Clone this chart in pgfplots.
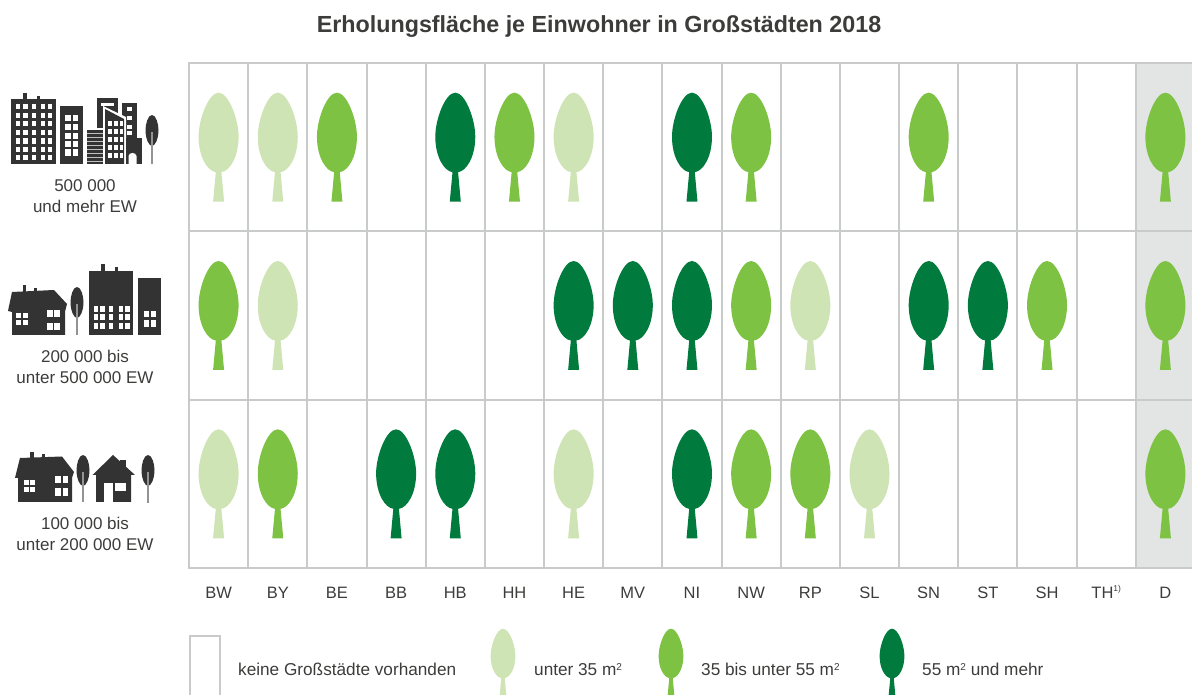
\documentclass[border=0pt]{standalone}
\usepackage{pgfplots}
\pgfplotsset{compat=1.18}
\usepackage{fontspec}
\setmainfont{Liberation Sans}
\definecolor{lightg}{HTML}{CFE4B5}
\definecolor{midg}{HTML}{7DC242}
\definecolor{darkg}{HTML}{007A3D}
\definecolor{gridc}{HTML}{C9CACA}
\definecolor{dcol}{HTML}{E3E4E4}
\definecolor{icon}{HTML}{333333}
\definecolor{txt}{HTML}{3C3C3B}
\newcommand{\sq}{\raisebox{0.62ex}{\fontsize{10}{10}\selectfont 2}}
\pgfdeclareplotmark{tree}{%
  \pgfpathmoveto{\pgfpoint{0pt}{54.5pt}}%
  \pgfpathcurveto{\pgfpoint{10pt}{54.5pt}}{\pgfpoint{20pt}{28pt}}{\pgfpoint{20pt}{10.5pt}}%
  \pgfpathcurveto{\pgfpoint{20pt}{-10pt}}{\pgfpoint{11pt}{-24pt}}{\pgfpoint{2.8pt}{-25pt}}%
  \pgfpathlineto{\pgfpoint{5.5pt}{-54.5pt}}%
  \pgfpathlineto{\pgfpoint{-5.5pt}{-54.5pt}}%
  \pgfpathlineto{\pgfpoint{-2.8pt}{-25pt}}%
  \pgfpathcurveto{\pgfpoint{-11pt}{-24pt}}{\pgfpoint{-20pt}{-10pt}}{\pgfpoint{-20pt}{10.5pt}}%
  \pgfpathcurveto{\pgfpoint{-20pt}{28pt}}{\pgfpoint{-10pt}{54.5pt}}{\pgfpoint{0pt}{54.5pt}}%
  \pgfpathclose\pgfusepathqfill}
\newcommand{\wins}[4]{\foreach \xx in {#1}{\foreach \yy in {#2}{\fill[white] (\xx,\yy) rectangle ++(#3,#4);}}}
\newcommand{\smalltree}[3]{% cx, crown top, base
  \fill[icon] (#1,#2) .. controls (#1+4,#2) and (#1+6.5,#2+9) .. (#1+6.5,#2+15)
     .. controls (#1+6.5,#2+24) and (#1+3,#2+31) .. (#1,#2+31)
     .. controls (#1-3,#2+31) and (#1-6.5,#2+24) .. (#1-6.5,#2+15)
     .. controls (#1-6.5,#2+9) and (#1-4,#2) .. (#1,#2) -- cycle;
  \fill[gray!85] (#1-1.2,#2+17) rectangle (#1+1.2,#3);}
\begin{document}
\begin{tikzpicture}[x=1pt,y=1pt]
\useasboundingbox (0,0) rectangle (1192,695);
\begin{axis}[
  at={(189pt,127pt)},anchor=south west,
  width=1006pt,height=505pt,scale only axis,
  xmin=-0.5,xmax=16.5,ymin=-0.5,ymax=2.5,
  axis on top,
  axis line style={gridc,line width=2pt},
  xtick={0,1,...,16},
  xticklabels={BW,BY,BE,BB,HB,HH,HE,MV,NI,NW,RP,SL,SN,ST,SH,TH\raisebox{0.75ex}{\fontsize{8.5}{9}\selectfont 1)},D},
  minor xtick={0.5,1.5,...,15.5},
  ytick={0,1,2},
  yticklabels={},
  minor ytick={0.5,1.5},
  grid=minor,
  minor grid style={gridc,line width=2pt},
  major tick length=0pt,minor tick length=0pt,
  xticklabel style={font=\fontsize{16.5}{18}\selectfont,text=txt,yshift=-16pt,anchor=north,text height=11pt},
]
\addplot[fill=dcol,draw=none] coordinates {(15.5,-0.5)(16.5,-0.5)(16.5,2.5)(15.5,2.5)} -- cycle;
\addplot[only marks,mark=tree,color=lightg] coordinates {
  (0,2)(1,2)(6,2)
  (1,1)(10,1)
  (0,0)(6,0)(11,0)};
\addplot[only marks,mark=tree,color=midg] coordinates {
  (2,2)(5,2)(9,2)(12,2)(16,2)
  (0,1)(9,1)(14,1)(16,1)
  (1,0)(9,0)(10,0)(16,0)};
\addplot[only marks,mark=tree,color=darkg] coordinates {
  (4,2)(8,2)
  (6,1)(7,1)(8,1)(12,1)(13,1)
  (3,0)(4,0)(8,0)};
\end{axis}
% legend symbols, on a canvas-sized axis
\begin{axis}[
  at={(0pt,0pt)},anchor=south west,
  width=1192pt,height=695pt,scale only axis,hide axis,
  xmin=0,xmax=1192,ymin=0,ymax=695,clip=false,
]
\addplot[only marks,mark=tree,color=lightg,mark options={scale=0.62}] coordinates {(503,32.5)};
\addplot[only marks,mark=tree,color=midg,mark options={scale=0.62}] coordinates {(671,32.5)};
\addplot[only marks,mark=tree,color=darkg,mark options={scale=0.62}] coordinates {(892,32.5)};
\end{axis}
\begin{scope}[shift={(0,695)},y=-1pt]
\node[font=\fontsize{23.3}{26}\bfseries\selectfont,text=txt,anchor=center] at (599,27) {Erholungsfläche je Einwohner in Großstädten 2018};
% legend
\draw[gridc,line width=2pt] (190,700) -- (190,636) -- (220,636) -- (220,700);
\begin{scope}[every node/.style={font=\fontsize{17.2}{19}\selectfont,text=txt,anchor=base west,inner sep=0pt}]
\node at (238,676) {keine Großstädte vorhanden};
\node at (534,676) {unter 35 m\sq};
\node at (701,676) {35 bis unter 55 m\sq};
\node at (922,676) {55 m\sq{} und mehr};
\end{scope}
% row captions
\begin{scope}[every node/.style={font=\fontsize{17}{19}\selectfont,text=txt,anchor=base}]
\node at (85,192) {500 000};
\node at (85,213) {und mehr EW};
\node at (85,363) {200 000 bis};
\node at (85,384) {unter 500 000 EW};
\node at (85,530) {100 000 bis};
\node at (85,551) {unter 200 000 EW};
\end{scope}
% icon 1
\fill[icon] (11,99) rectangle (56,164);
\fill[icon] (23,93) rectangle (27,99);
\fill[icon] (37,96) rectangle (40,99);
\wins{15.7,23.3,31.7,40.7,47.7}{104,112.6,121,130,138.5,147,155}{4.5}{5.5}
\fill[icon] (60,106) rectangle (83,164);
\wins{65,72.5}{115,124,133,141,149.5}{5.5}{6.5}
\fill[icon] (97,98) rectangle (118,135);
\fill[white] (101,103) rectangle (113.5,106);
\fill[icon] (122,103) rectangle (137,138);
\wins{127}{107,116,125,131}{5}{4.5}
\fill[white] (85.5,128) rectangle (105,166);
\fill[icon] (87,130) rectangle (103,164);
\foreach \yy in {133,137,...,161}{\fill[gray!50] (87,\yy) rectangle (103,\yy+1.4);}
\fill[white] (103,106) -- (126,117) -- (126,166) -- (103,166) -- cycle;
\fill[icon] (105,109) -- (124,119) -- (124,164) -- (105,164) -- cycle;
\wins{108,114,119.5}{121,129,137,145,153}{3.5}{5.5}
\fill[icon] (126,138) rectangle (142,164);
\fill[white] (128.5,164) -- (128.5,156) .. controls (129,152) and (136,152) .. (136.5,156) -- (136.5,164) -- cycle;
\smalltree{152}{115}{164}
% icon 2
\fill[icon] (8,311) -- (12,292) -- (54,290) -- (67,304) -- (65,312) -- (65,335) -- (12,335) -- (12,312) -- cycle;
\fill[icon] (22.5,285) rectangle (26,292);
\fill[icon] (34,288) rectangle (37,292);
\wins{16,22.5}{313,320}{5.2}{4.8}
\wins{47,54}{310,323}{5.5}{7.5}
\smalltree{77}{287}{335}
\fill[icon] (89,271) rectangle (133,335);
\fill[icon] (101,264) rectangle (105,271);
\fill[icon] (114.5,267) rectangle (117.5,271);
\wins{93.5,100,108.5,118.5,125}{306.5,314.5,323.5}{4.5}{5.5}
\fill[icon] (138,278) rectangle (161,335);
\wins{143.5,151}{311,320.5}{5}{6.5}
% icon 3
\fill[icon] (15,478) -- (20,458) -- (62,456.5) -- (74,472) -- (72,478) -- (72,502) -- (18,502) -- (18,478) -- cycle;
\fill[icon] (30,452) rectangle (34,458);
\fill[icon] (42,454) rectangle (45,458);
\wins{23.5,30}{480,487.5}{5}{4.8}
\wins{55,62.5}{476,488.5}{5.5}{7.5}
\smalltree{83}{455}{502}
\fill[icon] (120,460) rectangle (126,470);
\fill[icon] (113,455) -- (135,475) -- (131,475) -- (131,502) -- (96,502) -- (96,475) -- (92.5,475) -- cycle;
\fill[white] (104,483) rectangle (112.5,502);
\fill[white] (115,483) rectangle (126,491);
\smalltree{148}{455}{503}
\end{scope}
\end{tikzpicture}
\end{document}
